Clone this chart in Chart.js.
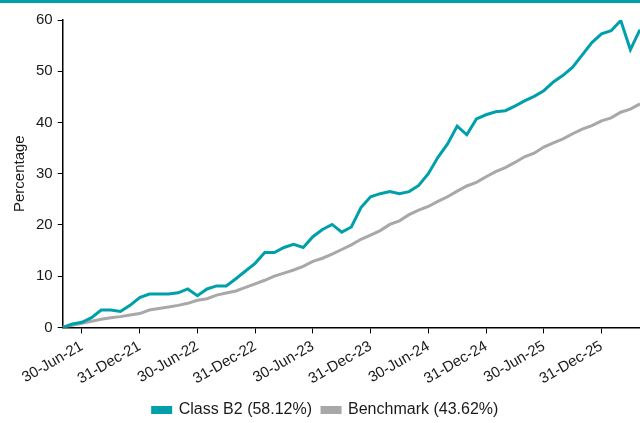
<!DOCTYPE html>
<html>
<head>
<meta charset="utf-8">
<script src="https://cdn.jsdelivr.net/npm/chart.js@4"></script>
<style>
    html, body { margin: 0; padding: 0; background: #fff; }
    #wrap { width: 640px; height: 420px; border-top: 3px solid #00A0AA; position: relative; }
</style>
</head>
<body>
<div id="wrap"><canvas id="myChart"></canvas></div>
<script>
// Fins de mois, avril 2021 -> avril 2026
const mois = [
    '30-Apr-21', '31-May-21', '30-Jun-21', '31-Jul-21', '31-Aug-21', '30-Sep-21', '31-Oct-21', '30-Nov-21', '31-Dec-21',
    '31-Jan-22', '28-Feb-22', '31-Mar-22', '30-Apr-22', '31-May-22', '30-Jun-22', '31-Jul-22', '31-Aug-22', '30-Sep-22', '31-Oct-22', '30-Nov-22', '31-Dec-22',
    '31-Jan-23', '28-Feb-23', '31-Mar-23', '30-Apr-23', '31-May-23', '30-Jun-23', '31-Jul-23', '31-Aug-23', '30-Sep-23', '31-Oct-23', '30-Nov-23', '31-Dec-23',
    '31-Jan-24', '29-Feb-24', '31-Mar-24', '30-Apr-24', '31-May-24', '30-Jun-24', '31-Jul-24', '31-Aug-24', '30-Sep-24', '31-Oct-24', '30-Nov-24', '31-Dec-24',
    '31-Jan-25', '28-Feb-25', '31-Mar-25', '30-Apr-25', '31-May-25', '30-Jun-25', '31-Jul-25', '31-Aug-25', '30-Sep-25', '31-Oct-25', '30-Nov-25', '31-Dec-25',
    '31-Jan-26', '28-Feb-26', '31-Mar-26', '30-Apr-26'
];

// Étiquettes affichées sur l'axe X
const tickLabels = [
    '30-Jun-21', '31-Dec-21', '30-Jun-22', '31-Dec-22', '30-Jun-23',
    '31-Dec-23', '30-Jun-24', '31-Dec-24', '30-Jun-25', '31-Dec-25'
];

// Performance cumulée (%)
const classB2 = [
    0, 0.65, 1.0, 1.9, 3.4, 3.4, 3.1, 4.3, 5.8,
    6.5, 6.5, 6.5, 6.75, 7.5, 6.2, 7.5, 8.1, 8.1, 9.5, 11.0, 12.5,
    14.6, 14.6, 15.6, 16.2, 15.6, 17.7, 19.1, 20.1, 18.6, 19.6, 23.4, 25.5,
    26.1, 26.5, 26.1, 26.5, 27.7, 30.0, 33.2, 35.8, 39.3, 37.6, 40.7, 41.5,
    42.1, 42.3, 43.2, 44.2, 45.1, 46.2, 47.9, 49.2, 50.8, 53.2, 55.6, 57.3,
    57.9, 59.9, 54.2, 58.12
];

const benchmark = [
    0, 0.4, 0.8, 1.2, 1.6, 1.9, 2.1, 2.4, 2.7,
    3.4, 3.7, 4.0, 4.3, 4.7, 5.3, 5.6, 6.3, 6.7, 7.1, 7.8, 8.5,
    9.2, 10.0, 10.6, 11.2, 11.9, 12.9, 13.5, 14.3, 15.2, 16.1, 17.2, 18.0,
    18.9, 20.1, 20.8, 22.0, 22.9, 23.6, 24.6, 25.5, 26.6, 27.6, 28.3, 29.4,
    30.4, 31.2, 32.2, 33.3, 34.0, 35.2, 36.0, 36.8, 37.8, 38.7, 39.4, 40.3,
    40.9, 42.0, 42.6, 43.62
];

const yTicks = [0, 10, 20, 30, 40, 50, 60];

const teal = '#00A0AA';
const gris = '#A8A8A8';
const police = "'Liberation Sans', Arial, sans-serif";

Chart.defaults.font.family = police;
Chart.defaults.color = '#1a1a1a';

const ctx = document.getElementById("myChart").getContext("2d");
const chart = new Chart(ctx, {
    type: 'line',
    data: {
        labels: mois,
        datasets: [
            {
                label: 'Class B2 (58.12%)',
                data: classB2,
                borderColor: teal,
                backgroundColor: teal,
                borderWidth: 3,
                pointRadius: 0,
                tension: 0,
                fill: false
            },
            {
                label: 'Benchmark (43.62%)',
                data: benchmark,
                borderColor: gris,
                backgroundColor: gris,
                borderWidth: 3,
                pointRadius: 0,
                tension: 0,
                fill: false
            }
        ]
    },
    options: {
        responsive: true,
        maintainAspectRatio: false,
        animation: false,
        // marge basse négative pour descendre la légende
        layout: { padding: { top: 17, right: 0, left: 11, bottom: -5 } },
        scales: {
            x: {
                type: 'category',
                offset: false,
                afterBuildTicks: (axis) => {
                    axis.ticks = axis.ticks.filter(t => tickLabels.includes(mois[t.value]));
                },
                grid: {
                    drawOnChartArea: false,
                    tickLength: 6,
                    color: '#000',
                    tickColor: '#000'
                },
                border: { display: true, color: '#000', width: 1.5 },
                ticks: {
                    autoSkip: false,
                    maxRotation: 30,
                    minRotation: 30,
                    font: { size: 15 },
                    padding: 4
                }
            },
            y: {
                min: 0,
                max: 60,
                afterBuildTicks: (axis) => {
                    axis.ticks = yTicks.map(v => ({ value: v }));
                },
                grid: {
                    drawOnChartArea: false,
                    tickLength: 5,
                    tickColor: '#000'
                },
                border: { display: true, color: '#000', width: 1.5 },
                ticks: {
                    font: { size: 15 },
                    padding: 5
                },
                title: {
                    display: true,
                    text: 'Percentage',
                    font: { size: 15 },
                    padding: { top: 0, bottom: 2 }
                }
            }
        },
        plugins: {
            legend: {
                position: 'bottom',
                labels: {
                    boxWidth: 18,
                    boxHeight: 5,
                    font: { size: 16 },
                    padding: 10
                }
            },
            tooltip: { enabled: false }
        }
    }
});
</script>
</body>
</html>
